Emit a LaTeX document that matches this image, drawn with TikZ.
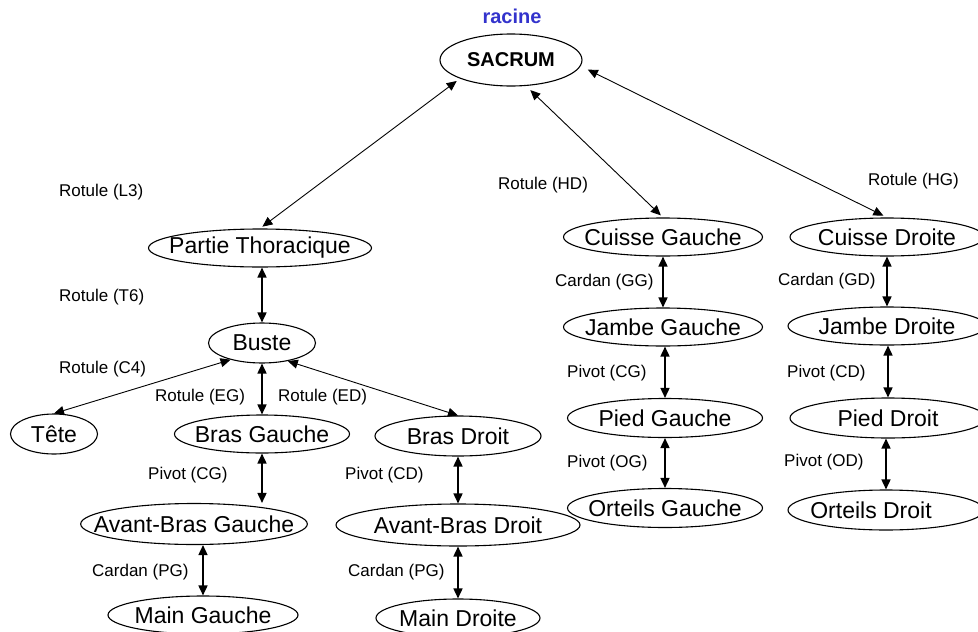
\documentclass[tikz,border=0pt]{standalone}
\usepackage{fontspec}
\setmainfont{Liberation Sans}
\usepackage{xcolor}
\usepackage{tikz}
\usetikzlibrary{shapes.geometric, arrows.meta}
\definecolor{racineblue}{RGB}{51,51,204}

\begin{document}
\begin{tikzpicture}[x=1pt, y=-1pt,
        part/.style={draw, ellipse, line width=1.1pt, inner xsep=-20pt, inner ysep=0pt,
                minimum height=38pt, font=\fontsize{23}{26}\selectfont},
        joint/.style={anchor=west, inner sep=0pt, font=\fontsize{17}{20}\selectfont},
        link/.style={{Triangle[length=10pt,width=9pt]}-{Triangle[length=10pt,width=9pt]}, line width=0.9pt},
        bond/.style={link, line width=1.6pt}]
        \useasboundingbox (0,0) rectangle (978,632);

        \node[font=\bfseries\fontsize{20}{24}\selectfont, text=racineblue] (racine) at (512,16) {racine};
        \node[part, font=\bfseries\fontsize{20}{24}\selectfont, minimum width=142pt, minimum height=52pt] (sacrum) at (511,60) {SACRUM};

        \node[part, minimum width=223pt] (thorax) at (260,248) {Partie Thoracique};
        \node[part, minimum width=107pt, minimum height=40pt] (buste) at (262,343) {Buste};
        \node[part, minimum width=87pt, minimum height=40pt] (tete) at (54,434) {Tête};
        \node[part, minimum width=175pt] (brasG) at (262,434) {Bras Gauche};
        \node[part, minimum width=166pt, minimum height=40pt] (brasD) at (458,436) {Bras Droit};
        \node[part, minimum width=224pt, minimum height=41pt] (abrasG) at (194,524) {Avant-Bras Gauche};
        \node[part, minimum width=244pt, minimum height=42pt] (abrasD) at (458,525) {Avant-Bras Droit};
        \node[part, minimum width=190pt] (mainG) at (203,615) {Main Gauche};
        \node[part, minimum width=164pt] (mainD) at (458,618) {Main Droite};

        \node[part, minimum width=199pt] (cuisseG) at (663,237) {Cuisse Gauche};
        \node[part, minimum width=199pt] (jambeG) at (663,327) {Jambe Gauche};
        \node[part, minimum width=195pt, minimum height=39pt] (piedG) at (665,418) {Pied Gauche};
        \node[part, minimum width=195pt, minimum height=39pt] (orteilsG) at (665,508) {Orteils Gauche};
        \node[part, minimum width=194pt] (cuisseD) at (887,237) {Cuisse Droite};
        \node[part, minimum width=198pt] (jambeD) at (887,326) {Jambe Droite};
        \node[part, minimum width=196pt, minimum height=40pt] (piedD) at (888,418) {Pied Droit};
        \node[part, minimum width=196pt, minimum height=40pt] (orteilsD) at (886,510) {\hspace*{-30pt}Orteils Droit};

        \node[joint] (jL3) at (59,192) {Rotule (L3)};
        \node[joint] (jT6) at (59,297) {Rotule (T6)};
        \node[joint] (jC4) at (59,369) {Rotule (C4)};
        \node[joint] (jEG) at (155,397) {Rotule (EG)};
        \node[joint] (jED) at (278,397) {Rotule (ED)};
        \node[joint] (jCGb) at (148,475) {Pivot (CG)};
        \node[joint] (jCDb) at (345,475) {Pivot (CD)};
        \node[joint] (jPGg) at (92,572) {Cardan (PG)};
        \node[joint] (jPGd) at (348,572) {Cardan (PG)};
        \node[joint] (jHD) at (498,185) {Rotule (HD)};
        \node[joint] (jHG) at (868,181) {Rotule (HG)};
        \node[joint] (jGG) at (555,282) {Cardan (GG)};
        \node[joint] (jCGj) at (567,373) {Pivot (CG)};
        \node[joint] (jOG) at (567,463) {Pivot (OG)};
        \node[joint] (jGD) at (778,281) {Cardan (GD)};
        \node[joint] (jCDj) at (787,373) {Pivot (CD)};
        \node[joint] (jOD) at (784,462) {Pivot (OD)};

        \draw[link, shorten <=4pt, shorten >=3pt] (sacrum.200) -- (thorax.north);
        \draw[link, shorten <=6pt, shorten >=3pt] (sacrum.-60) -- (cuisseG.north);
        \draw[link, shorten <=8pt, shorten >=4pt] (sacrum.-5) -- (cuisseD.north);

        \draw[bond] (thorax.south -| buste.north) -- (buste.north);
        \draw[link] (buste.208) -- (tete.north);
        \draw[bond] (buste.south) -- (brasG.north);
        \draw[link] (buste.-35) -- (brasD.north);
        \draw[bond] (brasG.south) -- (brasG.south |- abrasG.north);
        \draw[bond] (abrasG.south -| mainG.north) -- (mainG.north);
        \draw[bond] (brasD.south) -- (abrasD.north);
        \draw[bond] (abrasD.south) -- (mainD.north);

        \draw[bond] (cuisseG.south) -- (jambeG.north);
        \draw[bond] (jambeG.south -| piedG.north) -- (piedG.north);
        \draw[bond] (piedG.south) -- (orteilsG.north);
        \draw[bond] (cuisseD.south) -- (jambeD.north);
        \draw[bond] (jambeD.south -| piedD.north) -- (piedD.north);
        \draw[bond] (piedD.south -| orteilsD.north) -- (orteilsD.north);
\end{tikzpicture}
\end{document}
